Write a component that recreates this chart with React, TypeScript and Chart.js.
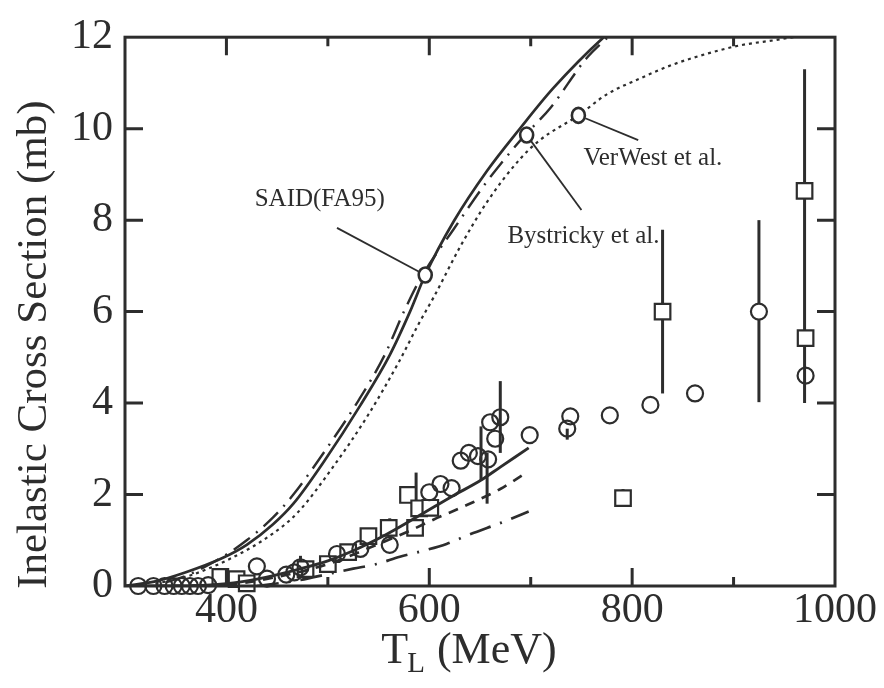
import React, { useEffect, useRef } from 'react';
import { Chart, registerables } from 'chart.js';

Chart.register(...registerables);

// ---- curves (T in MeV, cross section in mb) ----
const saidT = [300, 330, 360, 395, 420, 446, 466, 497, 532, 561, 581, 596, 624, 657, 690, 722, 772, 800];
const saidV = [0, 0.1, 0.3, 0.6, 0.9, 1.35, 1.8, 2.75, 3.95, 5.05, 6.0, 6.8, 7.97, 9.08, 10.02, 10.88, 12.0, 12.5];

const bystT = [340, 360, 395, 420, 446, 466, 497, 530, 556, 575, 592, 624, 657, 690, 720, 755, 776, 800];
const bystV = [0.08, 0.22, 0.62, 1.0, 1.5, 2.0, 2.95, 4.05, 5.05, 6.0, 6.75, 7.8, 8.85, 9.75, 10.47, 11.54, 12.0, 12.5];

const verT = [330, 360, 404, 446, 470, 505, 540, 570, 590, 604, 630, 657, 690, 709, 747, 775, 808, 840, 874, 906, 939, 960, 1000];
const verV = [0.05, 0.2, 0.6, 1.15, 1.6, 2.6, 3.75, 4.9, 5.75, 6.3, 7.4, 8.4, 9.35, 9.75, 10.29, 10.75, 11.1, 11.4, 11.64, 11.82, 11.93, 12.0, 12.02];

const lowSolidT = [300, 350, 400, 430, 470, 500, 525, 558, 591, 624, 650, 670, 698];
const lowSolidV = [0, 0.0, 0.05, 0.15, 0.36, 0.55, 0.77, 1.13, 1.55, 1.98, 2.3, 2.6, 3.02];

const lowDashT = [330, 400, 450, 500, 550, 580, 604, 637, 670, 696];
const lowDashV = [0, 0.03, 0.2, 0.48, 0.92, 1.2, 1.45, 1.77, 2.12, 2.48];

const lowDashDotT = [430, 470, 502, 525, 548, 571, 594, 617, 639, 675, 698];
const lowDashDotV = [0, 0.12, 0.27, 0.38, 0.48, 0.64, 0.77, 0.92, 1.12, 1.42, 1.63];

// ---- data points ----
const circleT = [313, 328, 339, 348, 356, 364, 372, 382, 430, 440, 459, 467, 473, 509, 532, 561, 600, 611, 622, 631, 639, 648, 658, 665, 660, 670, 699, 736, 739, 778, 818, 862, 925, 971];
const circleV = [0, 0, 0, 0, 0, 0, 0, 0.02, 0.43, 0.16, 0.25, 0.3, 0.41, 0.7, 0.81, 0.9, 2.05, 2.23, 2.14, 2.74, 2.91, 2.84, 2.77, 3.22, 3.58, 3.69, 3.3, 3.44, 3.71, 3.73, 3.96, 4.21, 6.0, 4.6];

const squareT = [394, 410, 420, 478, 500, 520, 540, 560, 579, 586, 590, 601, 791, 830, 970, 971];
const squareV = [0.2, 0.15, 0.06, 0.37, 0.48, 0.74, 1.09, 1.27, 1.99, 1.27, 1.7, 1.71, 1.92, 6.0, 8.64, 5.42];

// ---- error bars ----
const errT = [473, 561, 587, 651, 657, 670, 736, 791, 830, 925, 970];
const errLo = [0.31, 1.05, 1.56, 2.31, 1.8, 2.91, 3.2, 1.73, 4.21, 4.02, 4.0];
const errHi = [0.66, 1.48, 2.48, 3.49, 2.91, 4.48, 3.44, 2.12, 7.79, 8.0, 11.3];

// ---- axis ticks ----
const xTickVals = [400, 600, 800, 1000];
const xMinorVals = [500, 700, 900];
const yTickVals = [0, 2, 4, 6, 8, 10, 12];

// ---- annotations ----
const annotLabels = ['SAID(FA95)', 'Bystricky et al.', 'VerWest et al.'];
const annotCircleT = [596, 696, 747];
const annotCircleV = [6.8, 9.86, 10.29];
const leaderEndT = [509, 750, 806];
const leaderEndV = [7.83, 8.22, 9.75];
const labelT = [492, 677, 752];
const labelV = [8.3, 7.49, 9.2];
const labelAlign = ['center', 'left', 'left'];

const FONT = '"Liberation Serif", "Times New Roman", serif';
const INK = '#2d2d2d';

const overlayPlugin = {
  id: 'overlay',
  beforeDatasetsDraw(chart: any) {
    const { ctx, scales } = chart;
    const xs = scales.x, ys = scales.y;
    ctx.save();
    ctx.strokeStyle = INK;
    ctx.lineWidth = 3;
    for (let i = 0; i < errT.length; i++) {
      const x = xs.getPixelForValue(errT[i]);
      ctx.beginPath();
      ctx.moveTo(x, ys.getPixelForValue(errLo[i]));
      ctx.lineTo(x, ys.getPixelForValue(errHi[i]));
      ctx.stroke();
    }
    ctx.restore();
  },
  afterDraw(chart: any) {
    const { ctx, chartArea: a, scales } = chart;
    const xs = scales.x, ys = scales.y;
    ctx.save();
    ctx.strokeStyle = INK;
    ctx.fillStyle = INK;
    // frame
    ctx.lineWidth = 3;
    ctx.strokeRect(a.left, a.top, a.right - a.left, a.bottom - a.top);
    // inward ticks
    ctx.beginPath();
    const xt = (v: number, len: number) => {
      const x = xs.getPixelForValue(v);
      if (x <= a.left + 2 || x >= a.right - 2) return;
      ctx.moveTo(x, a.bottom); ctx.lineTo(x, a.bottom - len);
      ctx.moveTo(x, a.top); ctx.lineTo(x, a.top + len);
    };
    xTickVals.forEach((v) => xt(v, 18));
    xMinorVals.forEach((v) => xt(v, 9));
    yTickVals.forEach((v) => {
      const y = ys.getPixelForValue(v);
      if (y <= a.top + 2 || y >= a.bottom - 2) return;
      ctx.moveTo(a.left, y); ctx.lineTo(a.left + 18, y);
      ctx.moveTo(a.right, y); ctx.lineTo(a.right - 18, y);
    });
    ctx.stroke();

    // annotations
    for (let i = 0; i < annotLabels.length; i++) {
      const cx = xs.getPixelForValue(annotCircleT[i]);
      const cy = ys.getPixelForValue(annotCircleV[i]);
      const ex = xs.getPixelForValue(leaderEndT[i]);
      const ey = ys.getPixelForValue(leaderEndV[i]);
      const r = 7.5;
      const d = Math.hypot(ex - cx, ey - cy);
      ctx.lineWidth = 1.8;
      ctx.beginPath();
      ctx.moveTo(cx + ((ex - cx) / d) * r, cy + ((ey - cy) / d) * r);
      ctx.lineTo(ex, ey);
      ctx.stroke();
      ctx.lineWidth = 2.6;
      ctx.beginPath();
      ctx.ellipse(cx, cy, r - 1, r, 0, 0, Math.PI * 2);
      ctx.fillStyle = '#fff';
      ctx.fill();
      ctx.stroke();
      ctx.fillStyle = INK;
      ctx.font = `25px ${FONT}`;
      ctx.textAlign = labelAlign[i] as CanvasTextAlign;
      ctx.textBaseline = 'alphabetic';
      ctx.fillText(annotLabels[i], xs.getPixelForValue(labelT[i]), ys.getPixelForValue(labelV[i]));
    }

    // x title: T_L (MeV)
    const big = `44px ${FONT}`;
    const small = `29px ${FONT}`;
    ctx.font = big;
    const wT = ctx.measureText('T').width;
    const wRest = ctx.measureText(' (MeV)').width;
    ctx.font = small;
    const wL = ctx.measureText('L').width;
    const total = wT + wL + wRest;
    let x0 = (a.left + a.right) / 2 - 11 - total / 2;
    const base = a.bottom + 77;
    ctx.textAlign = 'left';
    ctx.font = big;
    ctx.fillText('T', x0, base);
    x0 += wT;
    ctx.font = small;
    ctx.fillText('L', x0 - 1, base + 9);
    x0 += wL;
    ctx.font = big;
    ctx.fillText(' (MeV)', x0, base);

    // y title
    ctx.save();
    ctx.translate(a.left - 90, (a.top + a.bottom) / 2 + 33);
    ctx.rotate(-Math.PI / 2);
    ctx.font = `43px ${FONT}`;
    ctx.textAlign = 'center';
    ctx.textBaseline = 'middle';
    ctx.fillText('Inelastic Cross Section (mb)', 0, 0);
    ctx.restore();

    ctx.restore();
  },
};

export default function App() {
  const ref = useRef<HTMLCanvasElement>(null);
  useEffect(() => {
    if (!ref.current) return;
    const toPts = (xs: number[], ys: number[]) => xs.map((x, i) => ({ x, y: ys[i] }));
    const curve = (label: string, xs: number[], ys: number[], dash: number[], width: number) => ({
      label,
      data: toPts(xs, ys),
      showLine: true,
      borderColor: INK,
      backgroundColor: INK,
      borderWidth: width,
      borderDash: dash,
      borderCapStyle: 'butt',
      pointRadius: 0,
      pointHoverRadius: 0,
      fill: false,
      cubicInterpolationMode: 'monotone',
    });
    const circleFill = circleT.map((t) => (t === 925 ? '#ffffff' : 'rgba(0,0,0,0)'));
    const chart = new Chart(ref.current, {
      type: 'scatter',
      data: {
        datasets: [
          curve('SAID(FA95)', saidT, saidV, [], 2.7),
          curve('Bystricky et al.', bystT, bystV, [20, 8, 2, 8], 2.4),
          curve('VerWest et al.', verT, verV, [3, 4], 2.2),
          curve('lower solid', lowSolidT, lowSolidV, [], 2.9),
          curve('lower dashed', lowDashT, lowDashV, [10, 8], 2.7),
          curve('lower dash-dot', lowDashDotT, lowDashDotV, [22, 10, 2, 10], 2.7),
          {
            label: 'circles',
            data: toPts(circleT, circleV),
            showLine: false,
            pointStyle: 'circle',
            pointRadius: 8,
            pointHoverRadius: 8,
            pointBorderWidth: 2.2,
            pointBorderColor: INK,
            pointBackgroundColor: circleFill,
            clip: false,
          },
          {
            label: 'squares',
            data: toPts(squareT, squareV),
            showLine: false,
            pointStyle: 'rect',
            pointRadius: 11,
            pointHoverRadius: 11,
            pointBorderWidth: 2.2,
            pointBorderColor: INK,
            pointBackgroundColor: '#ffffff',
            clip: false,
          },
        ],
      } as any,
      options: {
        animation: false,
        responsive: false,
        devicePixelRatio: 1,
        events: [],
        layout: { padding: { left: 0, right: 49, top: 25, bottom: 0 } },
        plugins: { legend: { display: false }, tooltip: { enabled: false }, title: { display: false } },
        scales: {
          x: {
            type: 'linear',
            min: 300,
            max: 1000,
            afterBuildTicks: (s: any) => { s.ticks = xTickVals.map((v) => ({ value: v })); },
            afterFit: (s: any) => { s.height = 102; },
            grid: { display: false, drawTicks: false },
            border: { display: false },
            ticks: {
              font: { family: FONT, size: 42 }, color: INK, padding: 0, maxRotation: 0, autoSkip: false,
              callback: (v: any) => String(v),
            },
          },
          y: {
            type: 'linear',
            min: 0,
            max: 12,
            afterBuildTicks: (s: any) => { s.ticks = yTickVals.map((v) => ({ value: v })); },
            afterFit: (s: any) => { s.width = 125; },
            grid: { display: false, drawTicks: false },
            border: { display: false },
            ticks: {
              font: { family: FONT, size: 42 }, color: INK, padding: 12, autoSkip: false,
              callback: (v: any) => String(v),
            },
          },
        },
      } as any,
      plugins: [overlayPlugin],
    });
    return () => chart.destroy();
  }, []);
  return (
    <div style={{ position: 'absolute', left: 0, top: 0, width: 884, height: 688, background: '#fff' }}>
      <canvas ref={ref} width={884} height={688} style={{ display: 'block' }} />
    </div>
  );
}
